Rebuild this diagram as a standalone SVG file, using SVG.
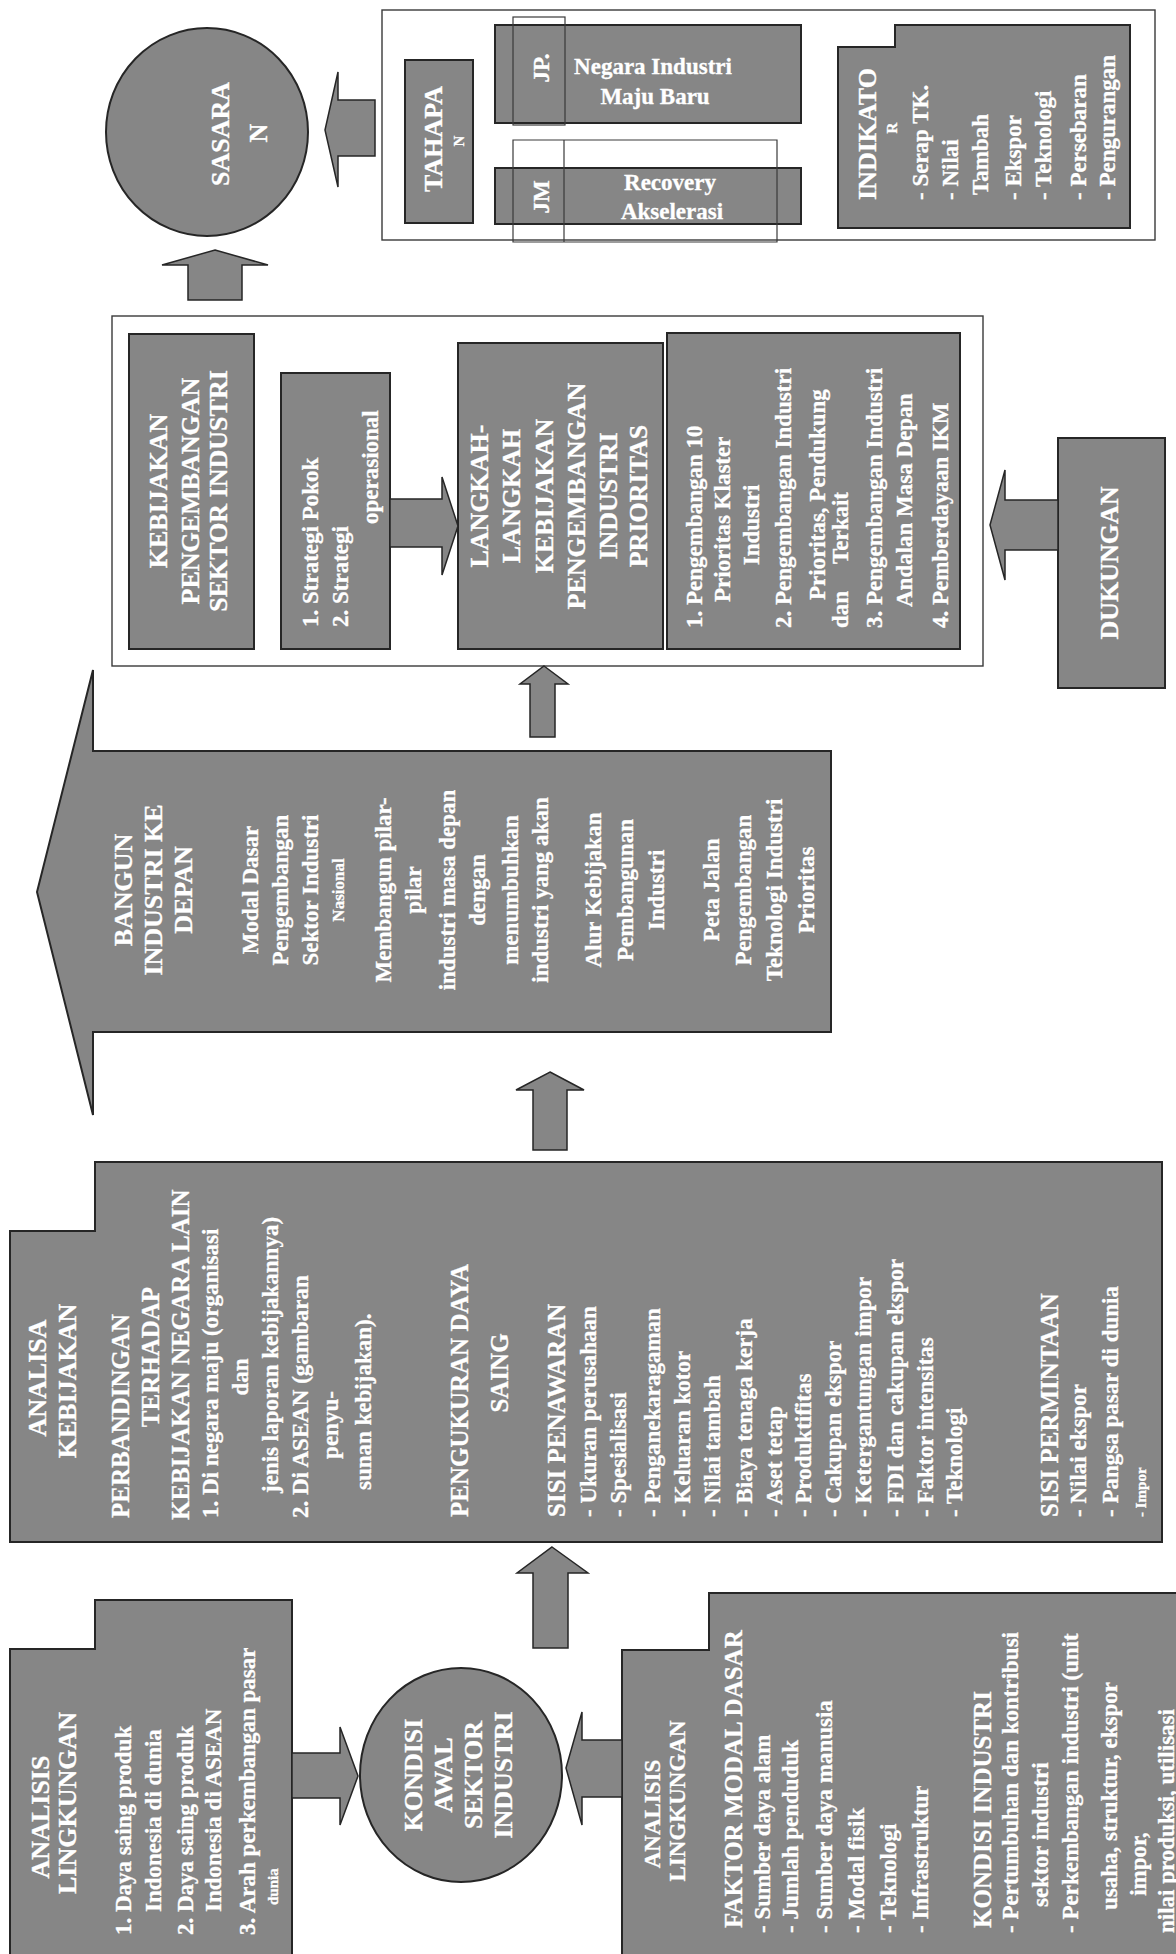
<svg xmlns="http://www.w3.org/2000/svg" width="1176" height="1954" viewBox="0 0 1176 1954">
<style>
.bx{fill:#868686;stroke:#262626;stroke-width:2}
.fr{fill:none;stroke:#3a3a3a;stroke-width:1.4}
.ol{fill:none;stroke:#3a3a3a;stroke-width:1.2}
.ar{fill:#868686;stroke:#262626;stroke-width:1.5}
text{font-family:"Liberation Serif","Times New Roman",serif;font-weight:bold;fill:#fff;font-size:23px;stroke:#fff;stroke-width:0.3}
.h{font-size:26px}
.m{text-anchor:middle}
.s{font-size:15px}
</style>
<rect width="1176" height="1954" fill="#fff"/>

<g id="frame-tahapan"><rect class="fr" x="382" y="10" width="773" height="230"/></g>
<g id="frame-kebijakan"><rect class="fr" x="112" y="316" width="871" height="350"/></g>

<g id="sasaran">
<ellipse class="bx" cx="207" cy="132" rx="101" ry="104"/>
<g transform="rotate(-90)"><text class="h m" x="-134" y="229">SASARA</text><text class="h m" x="-133" y="267">N</text></g>
</g>

<g id="tahapan">
<rect class="bx" x="405" y="60" width="68" height="163"/>
<g transform="rotate(-90)"><text class="h m" x="-139" y="442">TAHAPA</text><text class="s m" x="-141" y="464">N</text></g>
</g>

<g id="jp">
<rect class="bx" x="495" y="25" width="306" height="98"/>
<rect class="ol" x="513" y="17" width="52" height="108"/>
<g transform="rotate(-90)"><text class="m" x="-68" y="549">JP.</text></g>
<text class="m" x="653" y="74">Negara Industri</text>
<text class="m" x="655" y="104">Maju Baru</text>
</g>

<g id="jm">
<rect class="bx" x="495" y="168" width="306" height="56"/>
<path class="ol" d="M513,140 H777 V242 H513 Z M564,140 V242"/>
<g transform="rotate(-90)"><text class="m" x="-197" y="549">JM</text></g>
<text class="m" x="670" y="190">Recovery</text>
<text class="m" x="672" y="219">Akselerasi</text>
</g>

<g id="indikator">
<path class="bx" d="M838,47 H895 V25 H1130 V228 H838 Z"/>
<g transform="rotate(-90)">
<text class="h" x="-200" y="876">INDIKATO</text>
<text class="s m" x="-128" y="897">R</text>
<text x="-200" y="928">- Serap TK.</text>
<text x="-200" y="958">- Nilai</text>
<text x="-195" y="988">Tambah</text>
<text x="-200" y="1021">- Ekspor</text>
<text x="-200" y="1051">- Teknologi</text>
<text x="-200" y="1086">- Persebaran</text>
<text x="-200" y="1115">- Pengurangan</text>
</g>
</g>

<g id="kebijakan-pengembangan">
<rect class="bx" x="129" y="334" width="125" height="315"/>
<g transform="rotate(-90)">
<text class="h m" x="-491" y="167">KEBIJAKAN</text>
<text class="h m" x="-491" y="199">PENGEMBANGAN</text>
<text class="h m" x="-491" y="227">SEKTOR INDUSTRI</text>
</g>
</g>

<g id="strategi">
<rect class="bx" x="281" y="373" width="109" height="276"/>
<g transform="rotate(-90)">
<text x="-627" y="318">1. Strategi Pokok</text>
<text x="-627" y="348">2. Strategi</text>
<text x="-524" y="378">operasional</text>
</g>
</g>

<g id="langkah">
<rect class="bx" x="458" y="343" width="205" height="306"/>
<g transform="rotate(-90)">
<text class="h m" x="-496" y="488">LANGKAH-</text>
<text class="h m" x="-496" y="520">LANGKAH</text>
<text class="h m" x="-496" y="553">KEBIJAKAN</text>
<text class="h m" x="-496" y="585">PENGEMBANGAN</text>
<text class="h m" x="-496" y="617">INDUSTRI</text>
<text class="h m" x="-496" y="647">PRIORITAS</text>
</g>
</g>

<g id="langkah-list">
<rect class="bx" x="667" y="333" width="293" height="316"/>
<g transform="rotate(-90)">
<text x="-628" y="702">1. Pengembangan 10</text>
<text x="-602" y="730">Prioritas Klaster</text>
<text class="m" x="-525" y="759">Industri</text>
<text x="-628" y="791">2. Pengembangan Industri</text>
<text x="-600" y="825">Prioritas, Pendukung</text>
<text x="-628" y="848">dan</text>
<text class="m" x="-528" y="848">Terkait</text>
<text x="-628" y="882">3. Pengembangan Industri</text>
<text x="-607" y="912">Andalan Masa Depan</text>
<text x="-628" y="948">4. Pemberdayaan IKM</text>
</g>
</g>

<g id="dukungan">
<rect class="bx" x="1058" y="438" width="107" height="250"/>
<g transform="rotate(-90)"><text class="h m" x="-563" y="1118">DUKUNGAN</text></g>
</g>

<g id="bangun">
<path class="bx" d="M37,892 L93,670 V751 H831 V1032 H93 V1115 Z"/>
<g transform="rotate(-90)">
<text class="h m" x="-890" y="132">BANGUN</text>
<text class="h m" x="-890" y="162">INDUSTRI KE</text>
<text class="h m" x="-890" y="192">DEPAN</text>
<text class="m" x="-890" y="258">Modal Dasar</text>
<text class="m" x="-890" y="288">Pengembangan</text>
<text class="m" x="-890" y="318">Sektor Industri</text>
<text class="m" x="-890" y="344" style="font-size:17px">Nasional</text>
<text class="m" x="-890" y="391">Membangun pilar-</text>
<text class="m" x="-890" y="421">pilar</text>
<text class="m" x="-890" y="455">industri masa depan</text>
<text class="m" x="-890" y="485">dengan</text>
<text class="m" x="-890" y="518">menumbuhkan</text>
<text class="m" x="-890" y="548">industri yang akan</text>
<text class="m" x="-890" y="601">Alur Kebijakan</text>
<text class="m" x="-890" y="633">Pembangunan</text>
<text class="m" x="-890" y="664">Industri</text>
<text class="m" x="-890" y="719">Peta Jalan</text>
<text class="m" x="-890" y="751">Pengembangan</text>
<text class="m" x="-890" y="782">Teknologi Industri</text>
<text class="m" x="-890" y="814">Prioritas</text>
</g>
</g>

<g id="analisa-kebijakan">
<path class="bx" d="M10,1231 H95 V1162 H1162 V1542 H10 Z"/>
<g transform="rotate(-90)">
<text class="h m" x="-1378" y="46">ANALISA</text>
<text class="h m" x="-1381" y="76">KEBIJAKAN</text>
<text x="-1518" y="129" style="font-size:25px">PERBANDINGAN</text>
<text class="m" x="-1357" y="159" style="font-size:25px">TERHADAP</text>
<text x="-1520" y="189" style="font-size:25px">KEBIJAKAN NEGARA LAIN</text>
<text x="-1518" y="218">1. Di negara maju (organisasi</text>
<text class="m" x="-1377" y="248">dan</text>
<text x="-1493" y="278">jenis laporan kebijakannya)</text>
<text x="-1518" y="308">2. Di ASEAN (gambaran</text>
<text class="m" x="-1425" y="338">penyu-</text>
<text x="-1490" y="371">sunan kebijakan).</text>
<text x="-1517" y="468" style="font-size:25px">PENGUKURAN DAYA</text>
<text class="m" x="-1373" y="508" style="font-size:25px">SAING</text>
<text x="-1517" y="565" style="font-size:25px">SISI PENAWARAN</text>
<text x="-1517" y="596">- Ukuran perusahaan</text>
<text x="-1517" y="626">- Spesialisasi</text>
<text x="-1517" y="660">- Penganekaragaman</text>
<text x="-1517" y="690">- Keluaran kotor</text>
<text x="-1517" y="720">- Nilai tambah</text>
<text x="-1517" y="752">- Biaya tenaga kerja</text>
<text x="-1517" y="782">- Aset tetap</text>
<text x="-1517" y="811">- Produktifitas</text>
<text x="-1517" y="841">- Cakupan ekspor</text>
<text x="-1517" y="871">- Ketergantungan impor</text>
<text x="-1517" y="903">- FDI dan cakupan ekspor</text>
<text x="-1517" y="933">- Faktor intensitas</text>
<text x="-1517" y="962">- Teknologi</text>
<text x="-1517" y="1058" style="font-size:25px">SISI PERMINTAAN</text>
<text x="-1517" y="1086">- Nilai ekspor</text>
<text x="-1517" y="1118">- Pangsa pasar di dunia</text>
<text class="s" x="-1517" y="1146">- Impor</text>
</g>
</g>

<g id="analisis-lingkungan-global">
<path class="bx" d="M10,1649 H95 V1600 H292 V1956 H10 Z"/>
<g transform="rotate(-90)">
<text class="h m" x="-1817" y="49">ANALISIS</text>
<text class="h m" x="-1803" y="76">LINGKUNGAN</text>
<text x="-1935" y="131">1. Daya saing produk</text>
<text x="-1912" y="161">Indonesia di dunia</text>
<text x="-1935" y="193">2. Daya saing produk</text>
<text x="-1912" y="221">Indonesia di ASEAN</text>
<text x="-1935" y="255">3. Arah perkembangan pasar</text>
<text class="s" x="-1905" y="278">dunia</text>
</g>
</g>

<g id="kondisi-awal">
<ellipse class="bx" cx="461" cy="1775" rx="101" ry="107"/>
<g transform="rotate(-90)">
<text class="h m" x="-1775" y="422">KONDISI</text>
<text class="h m" x="-1775" y="452">AWAL</text>
<text class="h m" x="-1775" y="482">SEKTOR</text>
<text class="h m" x="-1775" y="512">INDUSTRI</text>
</g>
</g>

<g id="analisis-lingkungan-domestik">
<path class="bx" d="M622,1650 H709 V1593 H1178 V1956 H622 Z"/>
<g transform="rotate(-90)">
<text class="m" x="-1814" y="660">ANALISIS</text>
<text class="m" x="-1801" y="685">LINGKUNGAN</text>
<text x="-1928" y="742" style="font-size:25px">FAKTOR MODAL DASAR</text>
<text x="-1933" y="770">- Sumber daya alam</text>
<text x="-1933" y="798">- Jumlah penduduk</text>
<text x="-1933" y="832">- Sumber daya manusia</text>
<text x="-1933" y="864">- Modal fisik</text>
<text x="-1933" y="896">- Teknologi</text>
<text x="-1933" y="928">- Infrastruktur</text>
<text x="-1928" y="991" style="font-size:25px">KONDISI INDUSTRI</text>
<text x="-1933" y="1018">- Pertumbuhan dan kontribusi</text>
<text x="-1907" y="1048">sektor industri</text>
<text x="-1933" y="1078">- Perkembangan industri (unit</text>
<text x="-1910" y="1117">usaha, struktur, ekspor</text>
<text class="m" x="-1864" y="1146">impor,</text>
<text x="-1933" y="1174">nilai produksi, utilisasi</text>
</g>
</g>

<g id="connectors">
<polygon class="ar" points="325,130 338,72 338,100 375,100 375,156 338,156 338,187"/>
<polygon class="ar" points="215,250 268,265 242,265 242,300 188,300 188,265 162,265"/>
<polygon class="ar" points="390,499 442,499 442,477 458,526 442,575 442,547 390,547"/>
<polygon class="ar" points="990,525 1005,470 1005,500 1058,500 1058,550 1005,550 1005,580"/>
<polygon class="ar" points="544,666 568,684 555,684 555,737 530,737 530,684 520,684"/>
<polygon class="ar" points="550,1072 584,1090 567,1090 567,1150 533,1150 533,1090 516,1090"/>
<polygon class="ar" points="552,1547 588,1573 568,1573 568,1648 533,1648 533,1573 517,1573"/>
<polygon class="ar" points="292,1753 340,1753 340,1727 358,1776 340,1825 340,1798 292,1798"/>
<polygon class="ar" points="566,1768 582,1712 582,1740 622,1740 622,1797 582,1797 582,1825"/>
</g>
</svg>
